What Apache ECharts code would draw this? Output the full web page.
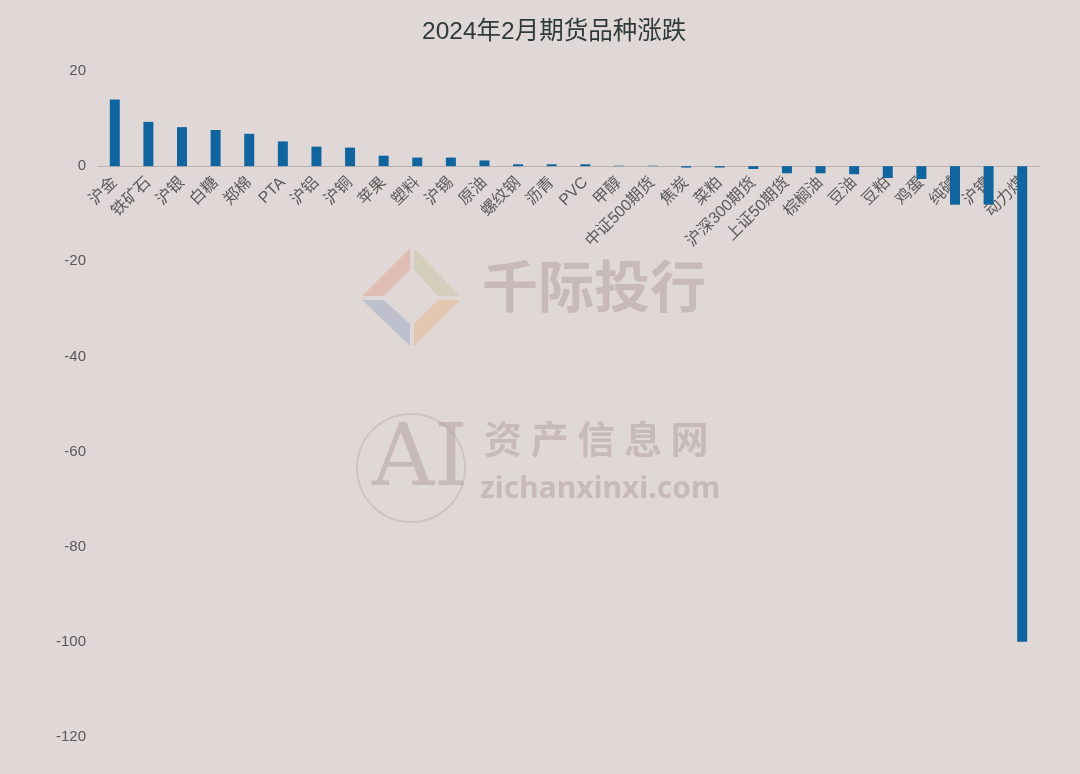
<!DOCTYPE html>
<html><head><meta charset="utf-8">
<script src="https://cdn.jsdelivr.net/npm/echarts@6/dist/echarts.min.js"></script>
<style>html,body{margin:0;padding:0;background:#e0d8d6;}#c{width:1080px;height:774px;}</style>
</head><body><div id="c"></div>
<script>
const categories = ['沪金','铁矿石','沪银','白糖','郑棉','PTA','沪铝','沪铜','苹果','塑料','沪锡','原油','螺纹钢','沥青','PVC','甲醇','中证500期货','焦炭','菜粕','沪深300期货','上证50期货','棕榈油','豆油','豆粕','鸡蛋','纯碱','沪镍','动力煤'];
const values = [14.0,9.3,8.2,7.6,6.8,5.2,4.1,3.9,2.2,1.8,1.8,1.2,0.4,0.4,0.4,0.1,0.1,-0.3,-0.3,-0.6,-1.5,-1.5,-1.7,-2.5,-2.7,-8.1,-8.1,-100];
const yTicks = {min:-120, max:20, interval:20};
const FONT = '"Liberation Sans","Noto Sans CJK SC",sans-serif';
const chart = echarts.init(document.getElementById('c'));
chart.setOption({
  backgroundColor:'#e0d8d6',
  title:{text:'2024年2月期货品种涨跌',left:417,top:15,textStyle:{fontFamily:FONT,fontSize:24.5,fontWeight:'normal',color:'#2f3b3b'}},
  grid:{left:98,right:41,top:71,bottom:37,containLabel:false,outerBoundsMode:'none'},
  graphic:[
    {type:'text',left:482,top:258,style:{text:'千际投行',fontSize:56,fontWeight:'bold',fontFamily:'Noto Sans CJK SC',fill:'rgba(170,150,150,0.45)'}},
    {type:'text',left:484,top:420,style:{text:'资 产 信 息 网',fontSize:38,fontWeight:'bold',fontFamily:'Noto Sans CJK SC',fill:'rgba(170,150,150,0.45)'}},
    {type:'text',left:480,top:474,style:{text:'zichanxinxi.com',fontSize:30,fontWeight:'bold',fontFamily:'Noto Sans',fill:'rgba(170,150,150,0.45)'}},
    {type:'text',left:372,top:420,style:{text:'AI',fontSize:86,fontFamily:'DejaVu Serif',fill:'rgba(170,150,150,0.45)'}},
    {type:'circle',shape:{cx:411,cy:468,r:54},style:{fill:'none',stroke:'rgba(170,150,150,0.3)',lineWidth:2}},
    {type:'polygon',shape:{points:[[410,248],[362,296],[384,296],[410,270]]},style:{fill:'rgba(220,140,120,0.35)'}},
    {type:'polygon',shape:{points:[[414,248],[460,296],[438,296],[414,270]]},style:{fill:'rgba(190,190,140,0.35)'}},
    {type:'polygon',shape:{points:[[362,300],[410,346],[410,324],[384,300]]},style:{fill:'rgba(130,150,190,0.35)'}},
    {type:'polygon',shape:{points:[[460,300],[414,346],[414,324],[438,300]]},style:{fill:'rgba(230,170,110,0.35)'}}
  ],
  xAxis:{type:'category',data:categories,position:'bottom',offset:-571,
    axisLine:{onZero:false,lineStyle:{color:'#bbb0ae'}},axisTick:{show:false},
    axisLabel:{rotate:45,interval:0,fontSize:16,color:'#5a5a5a',fontFamily:FONT,margin:14}},
  yAxis:{type:'value',min:yTicks.min,max:yTicks.max,interval:yTicks.interval,
    axisLine:{show:false},axisTick:{show:false},splitLine:{show:false},
    axisLabel:{fontSize:15,color:'#595959',fontFamily:FONT,margin:12}},
  series:[{type:'bar',data:values,barWidth:10,itemStyle:{color:'#10659e'}}]
});
</script></body></html>
